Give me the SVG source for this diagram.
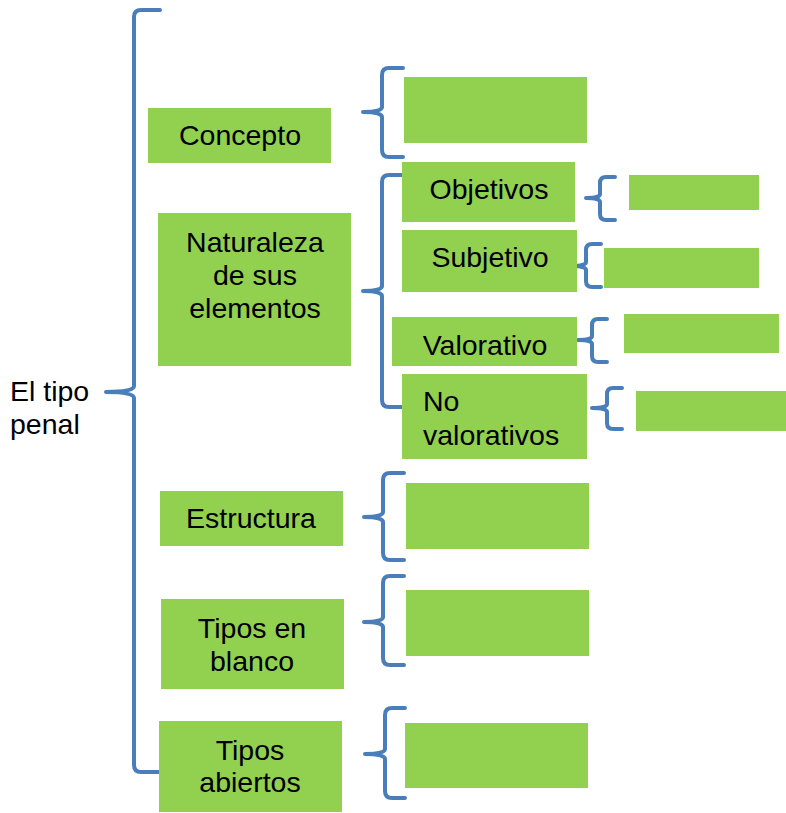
<svg xmlns="http://www.w3.org/2000/svg" width="786" height="813" viewBox="0 0 786 813">
<style>
.box{fill:#92D050}
.br{fill:none;stroke:#4A7EBB;stroke-width:4;stroke-linecap:round;stroke-linejoin:round}
text{font-family:"Liberation Sans",Arial,sans-serif;font-size:28.5px;fill:#000}
.c{text-anchor:middle}
</style>
<rect width="786" height="813" fill="#fff"/>
<g id="connectors">
<path class="br" d="M160 10 H141 Q134 10 134 17 V386 Q134 392 106 392 Q134 392 134 398 V765 Q134 772 141 772 H160"/>
<path class="br" d="M403 68 H389 Q382 68 382 75 V107 Q382 112 363 112 Q382 112 382 117 V150 Q382 157 389 157 H403"/>
<path class="br" d="M402 175 H389 Q382 175 382 182 V286 Q382 291 363 291 Q382 291 382 296 V400 Q382 407 389 407 H402"/>
<path class="br" d="M615 177 H606 Q600 177 600 183 V194 Q600 198 586 198 Q600 198 600 202 V214 Q600 220 606 220 H615"/>
<path class="br" d="M601 244 H592 Q586 244 586 250 V262 Q586 266 571 266 Q586 266 586 270 V281 Q586 287 592 287 H601"/>
<path class="br" d="M607 319 H598 Q592 319 592 325 V336 Q592 340 578 340 Q592 340 592 344 V356 Q592 362 598 362 H607"/>
<path class="br" d="M622 388 H613 Q607 388 607 394 V404 Q607 408 592 408 Q607 408 607 412 V423 Q607 429 613 429 H622"/>
<path class="br" d="M404 473 H390 Q383 473 383 480 V512 Q383 517 364 517 Q383 517 383 522 V553 Q383 560 390 560 H404"/>
<path class="br" d="M404 576 H390 Q383 576 383 583 V617 Q383 622 364 622 Q383 622 383 627 V658 Q383 665 390 665 H404"/>
<path class="br" d="M405 708 H392 Q385 708 385 715 V749 Q385 754 365 754 Q385 754 385 759 V791 Q385 798 392 798 H405"/>
</g>
<g id="root"><text x="10" y="401">El tipo</text><text x="10" y="434">penal</text></g>
<g id="concepto"><rect class="box" x="148" y="108" width="183" height="55"/><text class="c" x="240" y="145">Concepto</text></g>
<g id="concepto-res"><rect class="box" x="404" y="77" width="183" height="66"/></g>
<g id="naturaleza"><rect class="box" x="158" y="213" width="193" height="153"/><text class="c" x="255" y="252">Naturaleza</text><text class="c" x="255" y="285">de sus</text><text class="c" x="255" y="318">elementos</text></g>
<g id="objetivos"><rect class="box" x="402" y="162" width="173" height="60"/><text class="c" x="489" y="199">Objetivos</text></g>
<g id="objetivos-res"><rect class="box" x="629" y="175" width="130" height="35"/></g>
<g id="subjetivo"><rect class="box" x="402" y="230" width="175" height="62"/><text class="c" x="490" y="267">Subjetivo</text></g>
<g id="subjetivo-res"><rect class="box" x="604" y="248" width="155" height="40"/></g>
<g id="valorativo"><rect class="box" x="392" y="317" width="185" height="49"/><text class="c" x="485" y="355">Valorativo</text></g>
<g id="valorativo-res"><rect class="box" x="624" y="314" width="155" height="39"/></g>
<g id="novalorativos"><rect class="box" x="402" y="374" width="185" height="85"/><text x="423" y="411">No</text><text x="423" y="445">valorativos</text></g>
<g id="novalorativos-res"><rect class="box" x="636" y="391" width="150" height="40"/></g>
<g id="estructura"><rect class="box" x="160" y="491" width="183" height="55"/><text class="c" x="251" y="528">Estructura</text></g>
<g id="estructura-res"><rect class="box" x="406" y="483" width="183" height="66"/></g>
<g id="blanco"><rect class="box" x="161" y="599" width="183" height="90"/><text class="c" x="252" y="638">Tipos en</text><text class="c" x="252" y="671">blanco</text></g>
<g id="blanco-res"><rect class="box" x="406" y="590" width="183" height="66"/></g>
<g id="abiertos"><rect class="box" x="159" y="721" width="183" height="91"/><text class="c" x="250" y="760">Tipos</text><text class="c" x="250" y="792">abiertos</text></g>
<g id="abiertos-res"><rect class="box" x="405" y="723" width="183" height="65"/></g>
</svg>
